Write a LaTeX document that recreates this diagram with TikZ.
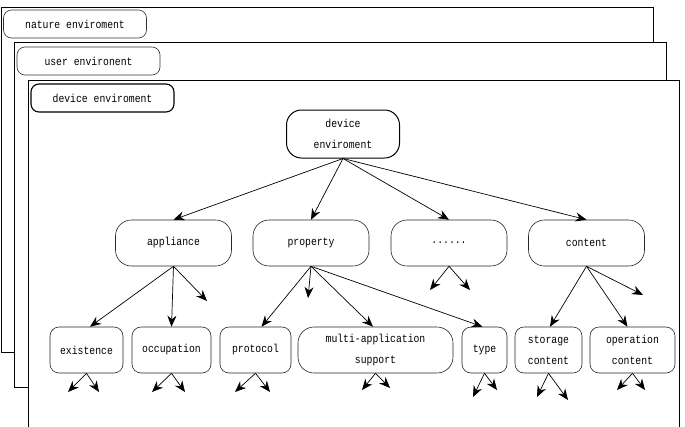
\documentclass[tikz,border=0pt]{standalone}
\usepackage{fontspec}
\newfontfamily\dfont[FakeStretch=0.85]{Liberation Mono}
\usetikzlibrary{arrows.meta}
\begin{document}
\begin{tikzpicture}[x=1pt,y=-1pt,
  frame/.style={draw=black,fill=white,line width=0.8pt},
  lbl/.style={draw=black!80,fill=white,rounded corners=8pt,line width=0.6pt,inner sep=0pt,
    minimum width=143pt,minimum height=28pt},
  lblbold/.style={lbl,draw=black,line width=1.1pt},
  topbox/.style={draw=black,fill=white,rounded corners=15pt,line width=1pt,inner sep=0pt,
    minimum width=113pt,minimum height=48pt,align=center},
  midbox/.style={draw=black!85,fill=white,rounded corners=16pt,line width=0.6pt,inner sep=0pt,
    minimum width=116pt,minimum height=46pt,align=center},
  lowbox/.style={draw=black!85,fill=white,rounded corners=9pt,line width=0.6pt,inner sep=0pt,
    minimum height=46pt,align=center},
  arr/.style={draw=black,line width=0.7pt,-{Stealth[length=11pt,width=9pt]}},
  every node/.style={font=\dfont\fontsize{11.5}{21}\selectfont}
]
\useasboundingbox (0,0) rectangle (685,426);
\clip (0,0) rectangle (685,426);
% frames
\draw[frame] (1,7) rectangle (653,352);
\node[lbl] (nat) at (75,24) {nature enviroment};
\draw[frame] (14,42) rectangle (666,387);
\node[lbl] (usr) at (88.5,61) {user environent};
\draw[frame] (28,80) rectangle (679,440);
\node[lblbold] (dev) at (102.5,98) {device enviroment};
% tree
\node[topbox] (root) at (343,134) {device\\enviroment};
\node[midbox] (app) at (173.5,243) {appliance};
\node[midbox] (prop) at (311,243) {property};
\node[midbox] (dots) at (449,243) {......};
\node[midbox] (cont) at (586.5,243) {content};
\node[lowbox,minimum width=73pt] (ex) at (86.5,350) {existence};
\node[lowbox,minimum width=79pt] (occ) at (171.5,350) {occupation};
\node[lowbox,minimum width=71pt] (pro) at (255.5,350) {protocol};
\node[lowbox,minimum width=155pt,rounded corners=16pt] (multi) at (375.5,350) {multi-application\\support};
\node[lowbox,minimum width=45pt] (typ) at (484.5,350) {type};
\node[lowbox,minimum width=67pt] (sto) at (548.5,350) {storage\\content};
\node[lowbox,minimum width=85pt] (ope) at (632.5,350) {operation\\content};
% stub ends
\coordinate (s1) at (207,301);
\coordinate (s2) at (308,298);
\coordinate (s3) at (430,290);
\coordinate (s4) at (470,290);
\coordinate (s5) at (643,295);
\coordinate (e1) at (68,392);  \coordinate (e2) at (99,392);
\coordinate (o1) at (152,392); \coordinate (o2) at (185,392);
\coordinate (p1) at (235,392); \coordinate (p2) at (270,392);
\coordinate (m1) at (362,390); \coordinate (m2) at (390,388);
\coordinate (t1) at (473,397); \coordinate (t2) at (497,390);
\coordinate (c1) at (537,397); \coordinate (c2) at (568,400);
\coordinate (q1) at (617,390); \coordinate (q2) at (645,390);
% arrows level 0 -> 1
\draw[arr] (root.south) -- (app.north);
\draw[arr] (root.south) -- (prop.north);
\draw[arr] (root.south) -- (dots.north);
\draw[arr] (root.south) -- (cont.north);
% level 1 -> 2
\draw[arr] (app.south) -- ([xshift=3.5pt]ex.north);
\draw[arr] (app.south) -- (occ.north);
\draw[arr] (app.south) -- (s1);
\draw[arr] (prop.south) -- ([xshift=6pt]pro.north);
\draw[arr] (prop.south) -- (s2);
\draw[arr] (prop.south) -- ([xshift=-2.5pt]multi.north);
\draw[arr] (prop.south) -- ([xshift=-2pt]typ.north);
\draw[arr] (dots.south) -- (s3);
\draw[arr] (dots.south) -- (s4);
\draw[arr] (cont.south) -- ([xshift=1.5pt]sto.north);
\draw[arr] (cont.south) -- ([xshift=-5pt]ope.north);
\draw[arr] (cont.south) -- (s5);
% level 2 stubs
\draw[arr] (ex.south) -- (e1);   \draw[arr] (ex.south) -- (e2);
\draw[arr] (occ.south) -- (o1);  \draw[arr] (occ.south) -- (o2);
\draw[arr] (pro.south) -- (p1);  \draw[arr] (pro.south) -- (p2);
\draw[arr] (multi.south) -- (m1); \draw[arr] (multi.south) -- (m2);
\draw[arr] (typ.south) -- (t1);  \draw[arr] (typ.south) -- (t2);
\draw[arr] (sto.south) -- (c1);  \draw[arr] (sto.south) -- (c2);
\draw[arr] (ope.south) -- (q1);  \draw[arr] (ope.south) -- (q2);
\end{tikzpicture}
\end{document}
